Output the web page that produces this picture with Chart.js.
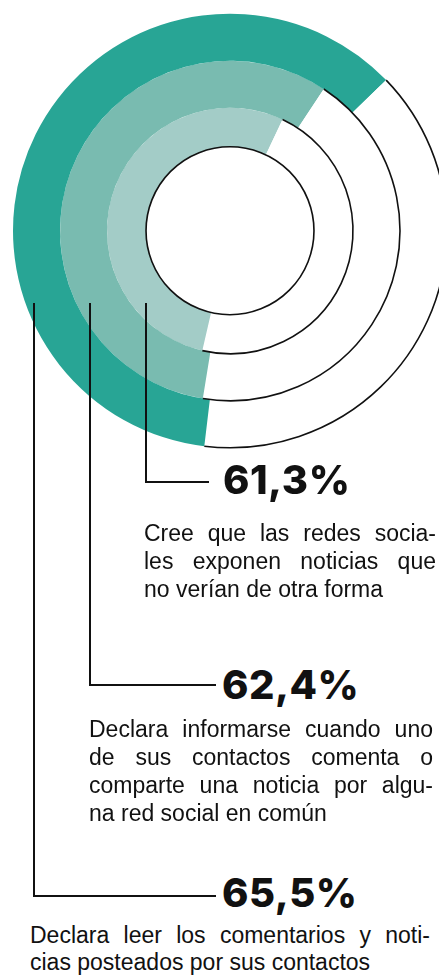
<!DOCTYPE html>
<html lang="es">
<head>
<meta charset="UTF-8">
<meta name="viewport" content="width=device-width, initial-scale=1.0">
<title>Redes sociales y noticias</title>
<script src="https://cdn.jsdelivr.net/npm/chart.js@4"></script>
<style>
    html, body {
        margin: 0;
        padding: 0;
        background: #fff;
        overflow: hidden;
    }
    #page {
        position: relative;
        width: 439px;
        height: 975px;
        overflow: hidden;
    }
    #ringChart {
        position: absolute;
        left: 0;
        top: 0;
    }
    .leader {
        position: absolute;
        box-sizing: border-box;
        border-left: 2px solid #111;
        border-bottom: 2px solid #111;
    }
    .pct {
        position: absolute;
        font-family: Inter, "Noto Sans", sans-serif;
        font-weight: 800;
        font-size: 40px;
        line-height: 40px;
        letter-spacing: 0.5px;
        color: #111;
        white-space: nowrap;
    }
    .desc {
        position: absolute;
        font-family: "Liberation Sans", Arial, sans-serif;
        font-size: 23px;
        line-height: 28px;
        color: #111;
    }
    .desc div {
        text-align: justify;
        text-align-last: justify;
    }
    .desc div:last-child {
        text-align-last: left;
    }
</style>
</head>
<body>
<div id="page">
    <canvas id="ringChart" width="460" height="460"></canvas>

    <div class="leader" style="left:33px; top:303px; width:183px; height:594px;"></div>
    <div class="leader" style="left:89px; top:303px; width:127px; height:383px;"></div>
    <div class="leader" style="left:145px; top:303px; width:64px; height:180px;"></div>

    <div class="pct" id="pct0" style="left:222px; top:873px;"></div>
    <div class="pct" id="pct1" style="left:222px; top:665px;"></div>
    <div class="pct" id="pct2" style="left:223px; top:460px;"></div>

    <div class="desc" id="desc0" style="left:30px; top:922px; width:400px; line-height:27px;"></div>
    <div class="desc" id="desc1" style="left:89px; top:715px; width:344px;"></div>
    <div class="desc" id="desc2" style="left:144px; top:519px; width:292px;"></div>
</div>

<script>
    // Rings from the outside in
    const values = [65.5, 62.4, 61.3];
    const descriptions = [
        ['Declara leer los comentarios y noti-',
         'cias posteados por sus contactos'],
        ['Declara informarse cuando uno',
         'de sus contactos comenta o',
         'comparte una noticia por algu-',
         'na red social en común'],
        ['Cree que las redes socia-',
         'les exponen noticias que',
         'no verían de otra forma']
    ];

    // Ring styling
    const ringColors = ['#28a595', '#79bbb0', '#a3ccc7'];
    const ringStart = [186.8, 189.2, 193];
    const ringSweep = [334.7, 327.4, 313.7];
    const ringWeight = [47, 47, 39];

    // Thin black track lines along the unfilled part of each ring
    const ringOutline = {
        id: 'ringOutline',
        afterDatasetsDraw(chart) {
            const ctx = chart.ctx;
            const last = chart.data.datasets.length - 1;
            ctx.save();
            ctx.strokeStyle = '#111';
            ctx.lineWidth = 1.6;
            chart.data.datasets.forEach((ds, i) => {
                const arc = chart.getDatasetMeta(i).data[0];
                ctx.beginPath();
                ctx.arc(arc.x, arc.y, arc.outerRadius, arc.endAngle, arc.startAngle + Math.PI * 2);
                ctx.stroke();
                if (i === last) {
                    ctx.beginPath();
                    ctx.arc(arc.x, arc.y, arc.innerRadius, 0, Math.PI * 2);
                    ctx.stroke();
                }
            });
            ctx.restore();
        }
    };

    new Chart(document.getElementById('ringChart'), {
        type: 'doughnut',
        data: {
            labels: ['Sí', 'Resto'],
            datasets: values.map((v, i) => ({
                data: [v, 100 - v],
                backgroundColor: [ringColors[i], '#ffffff'],
                borderWidth: 0,
                rotation: ringStart[i],
                circumference: ringSweep[i],
                weight: ringWeight[i]
            }))
        },
        options: {
            responsive: false,
            animation: false,
            events: [],
            cutout: '38.7%',
            layout: { padding: 13 },
            plugins: {
                legend: { display: false },
                tooltip: { enabled: false }
            }
        },
        plugins: [ringOutline]
    });

    // Percent labels and their descriptions
    values.forEach((v, i) => {
        document.getElementById('pct' + i).textContent = v.toFixed(1).replace('.', ',') + '%';
        const box = document.getElementById('desc' + i);
        descriptions[i].forEach(line => {
            const row = document.createElement('div');
            row.textContent = line;
            box.appendChild(row);
        });
    });
</script>
</body>
</html>
